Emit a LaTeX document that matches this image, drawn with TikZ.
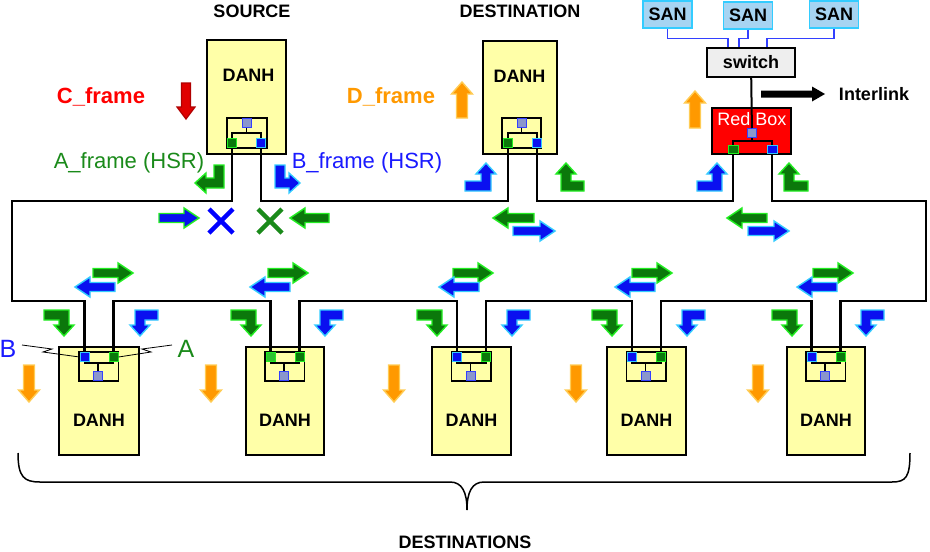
\documentclass[tikz,border=0pt]{standalone}
\usepackage{fontspec}
\setmainfont{Liberation Sans}
\definecolor{boxy}{HTML}{FFFFA8}
\definecolor{gfill}{HTML}{0B780B}
\definecolor{lgfill}{HTML}{30C030}
\definecolor{gline}{HTML}{22EE22}
\definecolor{bfill}{HTML}{0A10F0}
\definecolor{bline}{HTML}{33CCFF}
\definecolor{ofill}{HTML}{FF9900}
\definecolor{oline}{HTML}{FFCC55}
\definecolor{rfill}{HTML}{E00000}
\definecolor{rline}{HTML}{B00000}
\definecolor{sanfill}{HTML}{A6D4F2}
\definecolor{pgray}{HTML}{8A96CC}
\definecolor{pblue}{HTML}{3340FF}
\definecolor{txtgreen}{HTML}{1A8A1A}
\definecolor{txtblue}{HTML}{1A1AFF}
\definecolor{swfill}{HTML}{EEEEEE}
\newcommand\setfs[1]{\fontsize{#1}{#1}\selectfont}
% L arrow: bar along x then turn, tip along y
\newcommand\Larrow[6]{\filldraw[#1, shift={(#2)}, xscale=#3, yscale=#4] (0,-5) -- (#5+5,-5) -- (#5+5,#6-11) -- (#5+10,#6-11) -- (#5,#6) -- (#5-10,#6-11) -- (#5-5,#6-11) -- (#5-5,5) -- (0,5) -- cycle;}
% L arrow: bar along y then turn, tip along x
\newcommand\Lside[5]{\filldraw[#1, shift={(#2)}, xscale=#3] (-5,0) -- (-5,#4+5) -- (#5-11,#4+5) -- (#5-11,#4+10) -- (#5,#4) -- (#5-11,#4-10) -- (#5-11,#4-5) -- (5,#4-5) -- (5,0) -- cycle;}
% straight arrow: style, tail, rotation, length, shaft half, head half, head length
\newcommand\Sarrow[7]{\filldraw[#1, shift={(#2)}, rotate=#3] (0,-#5) -- (#4-#7,-#5) -- (#4-#7,-#6) -- (#4,0) -- (#4-#7,#6) -- (#4-#7,#5) -- (0,#5) -- cycle;}
\begin{document}
\begin{tikzpicture}[x=1pt,y=-1pt,
 danh/.style={rectangle, draw=black, line width=1.4pt, fill=boxy, inner sep=0pt},
 lbl/.style={inner sep=0pt, anchor=base, font=\setfs{18}\bfseries},
 innl/.style={draw=black, line width=1.3pt},
 wire/.style={draw=black, line width=2.8pt, line join=miter},
 portbox/.style={rectangle, inner sep=0pt, minimum width=9pt, minimum height=9pt, line width=1pt},
 gport/.style={portbox, fill=gfill, draw=gline},
 bport/.style={portbox, fill=bfill, draw=bline},
 gsq/.style={portbox, fill=pgray, draw=pblue},
 garr/.style={fill=gfill, draw=gline, line width=1.4pt},
 barr/.style={fill=bfill, draw=bline, line width=1.4pt},
 bgarr/.style={fill=bfill, draw=gline, line width=1.4pt},
 oarr/.style={fill=ofill, draw=oline, line width=1.4pt},
 rarr/.style={fill=rfill, draw=rline, line width=1.2pt},
 karr/.style={fill=black, draw=none},
 sanbox/.style={rectangle, draw=bline, line width=1.5pt, fill=sanfill, inner sep=0pt, minimum width=49pt, minimum height=27pt, font=\setfs{18}\bfseries},
 sanw/.style={draw=pblue, line width=1.2pt},
 xmark/.style={line width=4.5pt},
]
\useasboundingbox (0,0) rectangle (930,552);

% ---------- titles ----------
\node[lbl] (tsrc) at (252,17) {SOURCE};
\node[lbl] (tdst) at (520,17) {DESTINATION};
\node[lbl] (tdsts) at (465,548) {DESTINATIONS};

% ---------- source DANH ----------
\node[danh, minimum width=79pt, minimum height=114pt] (src) at (246.5,97) {};
\node[lbl] (srct) at (248.5,81) {DANH};
\draw[innl] (227,118) rectangle (267,148);
\node[gsq] (sG) at (246.5,123) {};
\node[gport] (sA) at (232,143) {};
\node[bport] (sB) at (261,143) {};
\draw[innl] (sA) -- (232,133) -- (261,133) -- (sB);
\draw[innl] (sG) -- (246.5,133);

% ---------- destination DANH ----------
\node[danh, minimum width=74pt, minimum height=113pt] (dst) at (520,97.5) {};
\node[lbl] (dstt) at (519.5,82) {DANH};
\draw[innl] (502,118) rectangle (541,148);
\node[gsq] (dG) at (521.5,123) {};
\node[gport] (dA) at (508,143) {};
\node[bport] (dB) at (537,143) {};
\draw[innl] (dA) -- (508,133) -- (537,133) -- (dB);
\draw[innl] (dG) -- (521.5,133);

% ---------- SAN / switch / red box ----------
\node[sanbox] (san1) at (667.5,14.5) {SAN};
\node[sanbox] (san2) at (748,15.5) {SAN};
\node[sanbox] (san3) at (834,14.5) {SAN};
\node[rectangle, draw=black, line width=1.4pt, fill=swfill, inner sep=0pt, minimum width=88pt, minimum height=29pt, font=\setfs{18}\bfseries] (sw) at (751,62.5) {switch};
\draw[sanw] (san1.south) -- ++(0,10) -| ([xshift=-23pt]sw.north);
\draw[sanw] (san2.south) -- ++(0,9) -| ([xshift=-12pt]sw.north);
\draw[sanw] (san3.south) -- ++(0,10) -| ([xshift=16pt]sw.north);

\node[rectangle, draw=black, line width=1.4pt, fill=red, minimum width=79pt, minimum height=46pt, inner sep=0pt] (rb) at (751.5,131) {};
\node[gsq] (rG) at (752,133) {};
\node[gport, minimum width=10pt, minimum height=8pt] (rA) at (733,149) {};
\node[bport, minimum width=10pt, minimum height=8pt] (rB) at (772,149) {};
\draw[innl] (rG) -- (752,141) -- (733,141) -- (rA);
\draw[innl] (752,141) -- (772,141) -- (rB);
\draw[line width=2pt] (sw) -- (rG);
\node[inner sep=0pt, anchor=base, font=\setfs{18}, text=white] (rbt) at (752,125) {Red Box};

% Interlink
\Sarrow{karr}{761,94}{0}{64}{3.5}{7.5}{13}
\node[lbl] (til) at (874,100) {Interlink};

% ---------- bottom DANHs ----------
\foreach \i/\cx/\w/\lf/\ld in {1/99/80/bfill/bline, 2/285/78/lgfill/gline, 3/471.5/79/bfill/bline, 4/646.5/79/bfill/bline, 5/826/78/bfill/bline}{
  \node[danh, minimum width=\w pt, minimum height=108pt] (bx\i) at (\cx,401) {};
  \node[lbl] (bt\i) at (\cx,426) {DANH};
  \draw[innl] (\cx-20,352) rectangle (\cx+19.5,381);
  \node[gsq] (bg\i) at (\cx-1,375.5) {};
  \node[portbox, fill=\lf, draw=\ld] (pL\i) at (\cx-14.5,357) {};
  \node[gport] (pR\i) at (\cx+14.5,357) {};
  \draw[innl] (pL\i) -- (\cx-14.5,363) -- (\cx+14.5,363) -- (pR\i);
  \draw[innl] (\cx-1,363) -- (bg\i);
}

% ---------- ring wires ----------
\coordinate (cTL) at (12,201);
\coordinate (cBL) at (12,301);
\coordinate (cTR) at (926,201);
\coordinate (cBR) at (926,301);
\draw[wire] (sA) -- (sA |- cTL) -- (cTL) -- (cBL) -- (pL1 |- cBL) -- (pL1);
\draw[wire] (sB) -- (sB |- cTL) -- (dA |- cTL) -- (dA);
\draw[wire] (dB) -- (dB |- cTL) -- (rA |- cTL) -- (rA);
\draw[wire] (rB) -- (rB |- cTL) -- (cTR) -- (cBR) -- (pR5 |- cBR) -- (pR5);
\foreach \i/\j in {1/2,2/3,3/4,4/5}{
  \draw[wire] (pR\i) -- (pR\i |- cBL) -- (pL\j |- cBL) -- (pL\j);
}

% ---------- text labels ----------
\node[lbl, text=red, font=\setfs{22}\bfseries] (tc) at (101,103) {C\_frame};
\node[lbl, text=ofill, font=\setfs{22}\bfseries] (td) at (391,103) {D\_frame};
\node[lbl, text=txtgreen, font=\setfs{22}] (ta) at (129,168) {A\_frame (HSR)};
\node[lbl, text=txtblue, font=\setfs{22}] (tb) at (367,168) {B\_frame (HSR)};
\node[inner sep=0pt, anchor=base, font=\setfs{25}, text=txtblue] (lB) at (8,357) {B};
\node[inner sep=0pt, anchor=base, font=\setfs{25}, text=txtgreen] (lA) at (186,357) {A};
\draw[line width=0.8pt] (22,345) -- (52,349) -- (43,352) -- (pL1.west);
\draw[line width=0.8pt] (172,345) -- (142,349) -- (151,352) -- (pR1.east);

% ---------- vertical frame arrows ----------
\Sarrow{rarr}{186,83}{-90}{36}{4.5}{9}{12}
\Sarrow{oarr}{462,118}{90}{36}{5.5}{10.5}{12}
\Sarrow{oarr}{695,128}{90}{37}{5.5}{10.5}{12}
\foreach \ox in {29,211,394,576,758}{
  \Sarrow{oarr}{\ox,365}{-90}{37}{5.5}{10.5}{12}
}

% ---------- source L arrows, X marks ----------
\Lside{garr}{219,165}{-1}{18}{24}
\Lside{barr}{280,165}{1}{18}{20}
\Sarrow{bgarr}{159,218}{0}{40}{4.5}{10}{15}
\Sarrow{garr}{329,218}{180}{39}{4.5}{10}{15}
\draw[xmark, draw=blue] (209,209) -- (233,233) (209,233) -- (233,209);
\draw[xmark, draw=txtgreen] (258,209) -- (282,233) (258,233) -- (282,209);

% ---------- destination / red box arrows ----------
\Larrow{barr}{465,186}{1}{-1}{21}{23}
\Larrow{garr}{584,186}{-1}{-1}{18}{23}
\Larrow{barr}{697,186}{1}{-1}{20}{23}
\Larrow{garr}{808,186}{-1}{-1}{19}{23}
\Sarrow{garr}{534,218}{180}{41}{4.5}{10}{15}
\Sarrow{barr}{513,231}{0}{42}{4.5}{10}{15}
\Sarrow{garr}{767,218}{180}{40}{4.5}{10}{15}
\Sarrow{barr}{748,231}{0}{41}{4.5}{10}{15}

% ---------- bottom arrows ----------
\foreach \l/\r/\gt/\bt in {59/139/93/115, 246/324/268/290, 432/511/453/479, 607/686/632/655, 787/865/813/837}{
  \Larrow{garr}{\l-15,315}{1}{1}{20}{21}
  \Larrow{barr}{\r+19,315}{-1}{1}{18}{21}
  \Sarrow{garr}{\gt,273}{0}{40}{4.5}{10}{15}
  \Sarrow{barr}{\bt,287}{180}{40}{4.5}{10}{15}
}

% ---------- brace ----------
\draw[line width=1.5pt] (18,453) .. controls (18,477) and (24,482) .. (40,482) -- (450,482) .. controls (462,482) and (467,492) .. (467,510) .. controls (467,492) and (472,482) .. (484,482) -- (892,482) .. controls (906,482) and (910,477) .. (910,453);
\end{tikzpicture}
\end{document}
